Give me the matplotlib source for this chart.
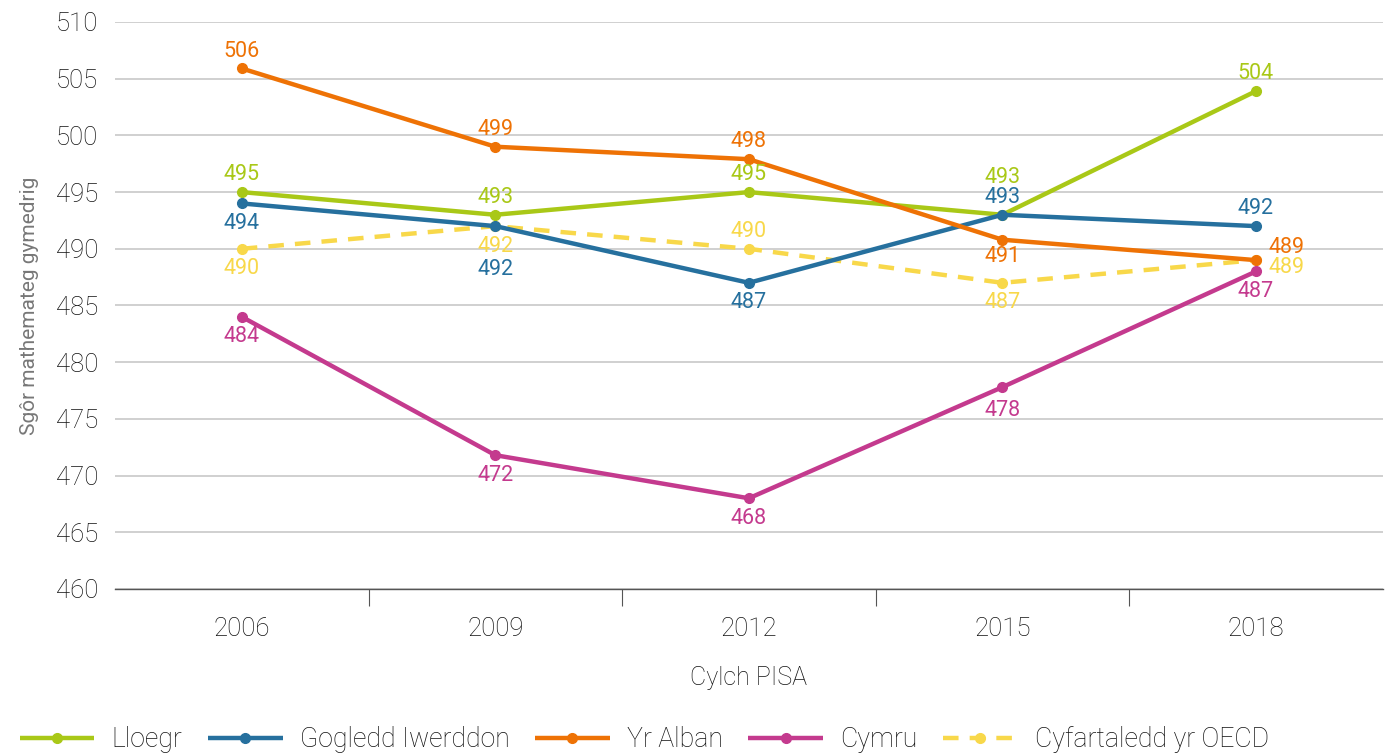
import matplotlib
matplotlib.use("Agg")
import matplotlib.pyplot as plt

years = ["2006", "2009", "2012", "2015", "2018"]
series_names = ["Lloegr", "Gogledd Iwerddon", "Yr Alban", "Cymru", "Cyfartaledd yr OECD"]
lloegr = [495, 493, 495, 493, 503.9]
gogledd = [494, 492, 487, 493, 492]
alban = [505.9, 499, 497.9, 490.8, 489]
cymru = [484, 471.8, 468, 477.8, 488]
oecd = [490, 492, 490, 487, 489]
lloegr_lbl = ["495", "493", "495", "493", "504"]
gogledd_lbl = ["494", "492", "487", "493", "492"]
alban_lbl = ["506", "499", "498", "491", "489"]
cymru_lbl = ["484", "472", "468", "478", "487"]
oecd_lbl = ["490", "492", "490", "487", "489"]
yticks = list(range(460, 511, 5))

colors = ["#A9C817", "#26709E", "#EE7205", "#C43A8E", "#F8D84A"]
# label offsets (points) relative to each marker
A, B = (0, 12.5), (0, -14.5)
offsets = [
    [A, A, A, (0, 27), A],
    [B, (0, -31), B, A, A],
    [A, A, A, (0, -12), (9, 9)],
    [B, B, B, (0, -17), B],
    [B, B, A, B, (9, -5.5)],
]

plt.rcParams["font.family"] = ["Roboto", "DejaVu Sans"]
fig = plt.figure(figsize=(13.91, 7.53), dpi=100)
ax = fig.add_axes([0.0827, 0.2178, 0.9113, 0.753])

data = [lloegr, gogledd, alban, cymru, oecd]
labels = [lloegr_lbl, gogledd_lbl, alban_lbl, cymru_lbl, oecd_lbl]
x = list(range(len(years)))
handles = []
for i, (vals, name) in enumerate(zip(data, series_names)):
    ls = (0, (3.5, 2.5)) if i == 4 else "-"
    h, = ax.plot(x, vals, color=colors[i], lw=3.2, ls=ls, marker="o", ms=7,
                 label=name, zorder=3 if i != 4 else 2, solid_capstyle="butt")
    handles.append(h)
    for xi, v, t, off in zip(x, vals, labels[i], offsets[i]):
        ha = "left" if off[0] > 0 else "center"
        ax.annotate(t, (xi, v), xytext=off, textcoords="offset points",
                    ha=ha, va="center", color=colors[i], fontsize=15.5, zorder=5)

ax.set_ylim(460, 510)
ax.set_yticks(yticks)
ax.set_xlim(-0.5, 4.5)
ax.set_xticks(x)
ax.set_xticklabels(years)
ax.set_xticks([0.5, 1.5, 2.5, 3.5], minor=True)
ax.tick_params(axis="x", which="major", length=0, labelsize=18.5, pad=20, colors="#111111")
ax.tick_params(axis="x", which="minor", length=12, color="#555555", width=0.8)
ax.tick_params(axis="y", length=0, labelsize=18.5, pad=12, colors="#111111")
for lab in ax.get_xticklabels() + ax.get_yticklabels():
    lab.set_fontweight("light")
ax.grid(axis="y", color="#c8c8c8", lw=1.2)
ax.set_axisbelow(True)
for s in ["left", "right", "top"]:
    ax.spines[s].set_visible(False)
ax.spines["bottom"].set_color("#555555")
ax.spines["bottom"].set_linewidth(1.0)
ax.set_xlabel("Cylch PISA", fontsize=18, labelpad=18, color="#111111", fontweight="light")
ax.set_ylabel("Sgôr mathemateg gymedrig", fontsize=15, color="#777777", labelpad=12)

leg = fig.legend(handles=handles, loc="lower left", bbox_to_anchor=(-0.003, -0.032), ncol=5,
                 frameon=False, fontsize=19.2, handlelength=2.8, columnspacing=0.95,
                 handletextpad=0.65)
for t in leg.get_texts():
    t.set_fontweight("light")
    t.set_color("#111111")
fig.savefig("out.png", dpi=100)
